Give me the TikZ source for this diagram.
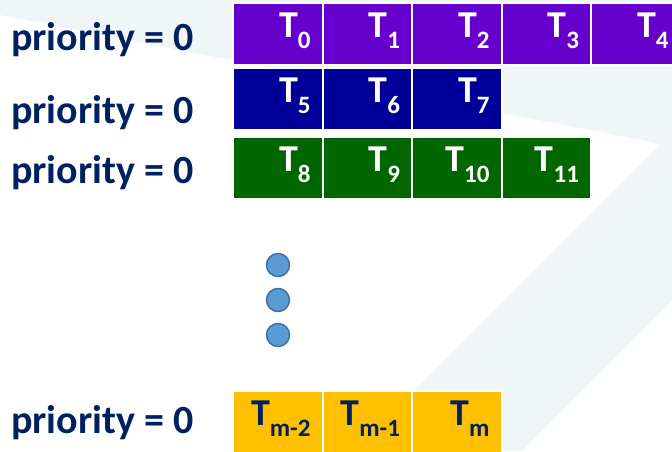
\documentclass[tikz,border=0pt]{standalone}
\usepackage{fontspec}
\setmainfont{Carlito}
\usetikzlibrary{positioning}
\definecolor{navy}{HTML}{002060}
\definecolor{rowpurple}{HTML}{6600CC}
\definecolor{rowblue}{HTML}{000099}
\definecolor{rowgreen}{HTML}{006600}
\definecolor{rowgold}{HTML}{FFC000}
\definecolor{backshade}{HTML}{F0F5F8}
\definecolor{dotblue}{HTML}{5B9BD5}
\definecolor{dotedge}{HTML}{41719C}
\newcommand{\tsk}[1]{T\raisebox{-11pt}{\fontsize{25}{25}\selectfont\bfseries #1}}

\begin{document}
\begin{tikzpicture}[x=1pt,y=-1pt,
    cell/.style={
        draw=white,
        line width=2pt,
        minimum width=89.5pt,
        minimum height=61.5pt,
        inner xsep=12pt,     % keeps the label off the right edge
        text width=65.5pt,
        align=right,
        text height=25pt,
        text depth=17pt,
        outer sep=0pt,       % cells touch each other
        text=white,
        font=\fontsize{38}{40}\selectfont\bfseries
    },
    prio/.style={
        anchor=base west,
        inner sep=0pt,
        text=navy,
        font=\fontsize{40}{42}\selectfont\bfseries
    },
    dot/.style={
        circle,
        fill=dotblue,
        draw=dotedge,
        line width=1.5pt,
        minimum size=23pt,
        inner sep=0pt
    }
]
    \clip (0,0) rectangle (672,451);
    % faint shape in the background
    \fill[backshade] (0,0) -- (672,0) -- (672,301) -- (522,451) -- (354,451)
        -- (661,144) -- (0,15) -- cycle;

    % first queue
    \node[cell, fill=rowpurple, anchor=north west] (t0) at (233,3) {\tsk{0}};
    \node[cell, fill=rowpurple, right=0pt of t0] (t1) {\tsk{1}};
    \node[cell, fill=rowpurple, right=0pt of t1] (t2) {\tsk{2}};
    \node[cell, fill=rowpurple, right=0pt of t2] (t3) {\tsk{3}};
    \node[cell, fill=rowpurple, right=0pt of t3] (t4) {\tsk{4}};

    % second queue
    \node[cell, fill=rowblue, anchor=north west] (t5) at (233,68) {\tsk{5}};
    \node[cell, fill=rowblue, right=0pt of t5] (t6) {\tsk{6}};
    \node[cell, fill=rowblue, right=0pt of t6] (t7) {\tsk{7}};

    % third queue
    \node[cell, fill=rowgreen, anchor=north west] (t8) at (233,137) {\tsk{8}};
    \node[cell, fill=rowgreen, right=0pt of t8] (t9) {\tsk{9}};
    \node[cell, fill=rowgreen, right=0pt of t9] (t10) {\tsk{10}};
    \node[cell, fill=rowgreen, right=0pt of t10] (t11) {\tsk{11}};

    % last queue
    \node[cell, fill=rowgold, text=navy, anchor=north west] (tm2) at (233,391) {\tsk{m-2}};
    \node[cell, fill=rowgold, text=navy, right=0pt of tm2] (tm1) {\tsk{m-1}};
    \node[cell, fill=rowgold, text=navy, right=0pt of tm1] (tm) {\tsk{m}};

    \node[prio] (p1) at (11,50) {priority = 0};
    \node[prio] (p2) at (11,123) {priority = 0};
    \node[prio] (p3) at (11,183) {priority = 0};
    \node[prio] (p4) at (11,433) {priority = 0};

    \node[dot] (d1) at (278,265) {};
    \node[dot] (d2) at (278,300) {};
    \node[dot] (d3) at (278,335) {};
\end{tikzpicture}
\end{document}
